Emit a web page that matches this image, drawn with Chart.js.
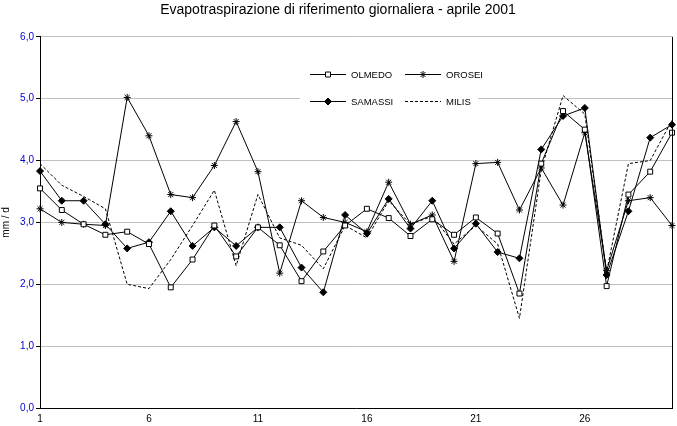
<!DOCTYPE html>
<html>
<head>
<meta charset="utf-8">
<script src="https://cdn.jsdelivr.net/npm/chart.js@4.4.0/dist/chart.umd.min.js"></script>
<style>
  body { margin: 0; background: #fff; }
  #wrap { width: 677px; height: 426px; }
</style>
</head>
<body>
<div id="wrap"><canvas id="myChart" width="677" height="426"></canvas></div>
<script>
const days = Array.from({ length: 30 }, (_, i) => String(i + 1));
const olmedo = [3.55, 3.2, 2.97, 2.8, 2.85, 2.65, 1.95, 2.4, 2.95, 2.45, 2.92, 2.63, 2.05, 2.53, 2.95, 3.22, 3.07, 2.78, 3.05, 2.8, 3.08, 2.82, 1.85, 3.95, 4.8, 4.5, 1.97, 3.45, 3.82, 4.45];
const orosei = [3.22, 3.0, 2.97, 2.95, 5.02, 4.4, 3.45, 3.4, 3.92, 4.63, 3.82, 2.18, 3.35, 3.08, 3.0, 2.85, 3.65, 2.97, 3.12, 2.37, 3.95, 3.97, 3.2, 3.88, 3.28, 4.45, 2.22, 3.35, 3.4, 2.95];
const samassi = [3.83, 3.35, 3.35, 2.97, 2.58, 2.68, 3.18, 2.62, 2.92, 2.62, 2.92, 2.92, 2.27, 1.87, 3.12, 2.82, 3.38, 2.9, 3.35, 2.58, 2.98, 2.52, 2.42, 4.18, 4.72, 4.85, 2.15, 3.18, 4.37, 4.58];
const milis = [3.95, 3.6, 3.42, 3.22, 2.0, 1.93, 2.4, 2.95, 3.52, 2.3, 3.45, 2.75, 2.63, 2.25, 2.95, 2.75, 3.35, 2.97, 3.1, 2.65, 2.95, 2.65, 1.45, 3.85, 5.05, 4.75, 2.2, 3.95, 4.0, 4.65];

const FONT = 'Liberation Sans, Arial, sans-serif';

// legend box inside the plot, like the original
const legendBox = {
    id: 'legendBox',
    afterDraw(chart) {
        const ctx = chart.ctx;
        ctx.save();
        // right frame line
        ctx.strokeStyle = '#000';
        ctx.lineWidth = 1;
        ctx.beginPath();
        ctx.moveTo(chart.chartArea.right + 0.5, chart.chartArea.top);
        ctx.lineTo(chart.chartArea.right + 0.5, chart.chartArea.bottom);
        ctx.stroke();

        ctx.fillStyle = '#fff';
        ctx.fillRect(300, 60, 178, 52);
        ctx.font = '9.5px ' + FONT;
        ctx.textBaseline = 'middle';
        const items = [
            { x: 310, y: 74, label: 'OLMEDO', marker: 'rect', dash: [] },
            { x: 405, y: 74, label: 'OROSEI', marker: 'star', dash: [] },
            { x: 310, y: 101, label: 'SAMASSI', marker: 'rectRot', dash: [] },
            { x: 405, y: 101, label: 'MILIS', marker: null, dash: [3, 2] }
        ];
        items.forEach(it => {
            ctx.strokeStyle = '#000';
            ctx.setLineDash(it.dash);
            ctx.beginPath();
            ctx.moveTo(it.x, it.y + 0.5);
            ctx.lineTo(it.x + 36, it.y + 0.5);
            ctx.stroke();
            ctx.setLineDash([]);
            if (it.marker) {
                ctx.fillStyle = it.marker === 'rectRot' ? '#000' : '#fff';
                ctx.strokeStyle = '#000';
                Chart.helpers.drawPoint(ctx, { pointStyle: it.marker, radius: 3.5, borderWidth: 1 }, it.x + 18, it.y + 0.5);
            }
            ctx.fillStyle = '#000';
            ctx.fillText(it.label, it.x + 41, it.y + 1);
        });
        ctx.restore();
    }
};

const myChartRef = document.getElementById('myChart').getContext('2d');
new Chart(myChartRef, {
    type: 'line',
    data: {
        labels: days,
        datasets: [
            {
                label: 'OLMEDO', data: olmedo, borderColor: '#000', borderWidth: 1,
                pointStyle: 'rect', pointRadius: 3.5, pointBackgroundColor: '#fff', pointBorderColor: '#000'
            },
            {
                label: 'OROSEI', data: orosei, borderColor: '#000', borderWidth: 1,
                pointStyle: 'star', pointRadius: 3.5, pointBorderColor: '#000'
            },
            {
                label: 'SAMASSI', data: samassi, borderColor: '#000', borderWidth: 1,
                pointStyle: 'rectRot', pointRadius: 3.5, pointBackgroundColor: '#000', pointBorderColor: '#000'
            },
            {
                label: 'MILIS', data: milis, borderColor: '#000', borderWidth: 1,
                borderDash: [3, 2], pointRadius: 0
            }
        ]
    },
    options: {
        responsive: false,
        animation: false,
        layout: { padding: { left: 0, right: 1, top: 0, bottom: 0 } },
        scales: {
            x: {
                offset: false,
                grid: { display: false, drawTicks: true, tickLength: 4, color: '#000' },
                border: { color: '#000' },
                ticks: {
                    autoSkip: false, maxRotation: 0, color: '#000', padding: 1,
                    font: { family: FONT, size: 10 },
                    callback: (v, i) => (i % 5 === 0 ? days[i] : '')
                }
            },
            y: {
                min: 0, max: 6,
                afterFit: (scale) => { scale.width = 40; },
                grid: { color: '#c0c0c0', tickLength: 4, tickColor: '#000' },
                border: { color: '#000' },
                title: { display: true, text: 'mm / d', color: '#000', font: { family: FONT, size: 10 }, padding: 0 },
                ticks: {
                    stepSize: 1, color: '#0000cc', padding: 2,
                    font: { family: FONT, size: 10 },
                    callback: v => v.toFixed(1).replace('.', ',')
                }
            }
        },
        plugins: {
            legend: { display: false },
            tooltip: { enabled: false },
            title: {
                display: true,
                text: 'Evapotraspirazione di riferimento giornaliera - aprile 2001',
                color: '#000',
                font: { family: FONT, size: 14, weight: 'normal' },
                padding: { top: 2, bottom: 18 }
            }
        }
    },
    plugins: [legendBox]
});
</script>
</body>
</html>
